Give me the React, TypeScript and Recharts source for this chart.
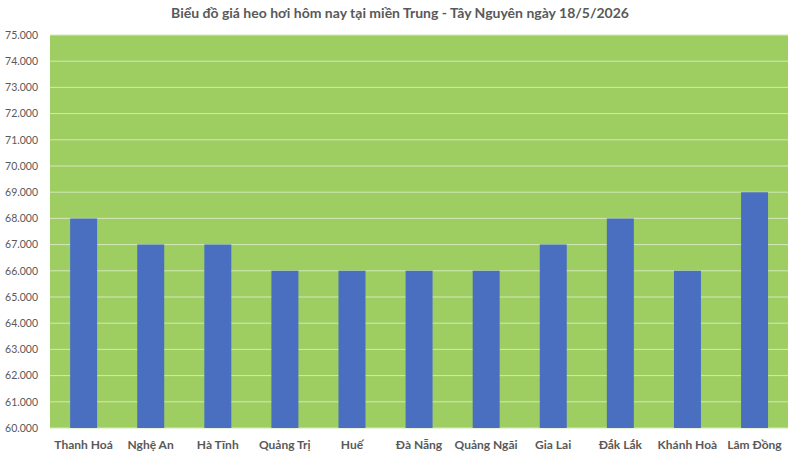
import React from "react";
import { BarChart, Bar, XAxis, YAxis, CartesianGrid } from "recharts";

const categories = ["Thanh Hoá", "Nghệ An", "Hà Tĩnh", "Quảng Trị", "Huế", "Đà Nẵng", "Quảng Ngãi", "Gia Lai", "Đắk Lắk", "Khánh Hoà", "Lâm Đồng"];
const prices = [68000, 67000, 67000, 66000, 66000, 66000, 66000, 67000, 68000, 66000, 69000];
const yTicks = [60000, 61000, 62000, 63000, 64000, 65000, 66000, 67000, 68000, 69000, 70000, 71000, 72000, 73000, 74000, 75000];
const title = "Biểu đồ giá heo hơi hôm nay tại miền Trung - Tây Nguyên ngày 18/5/2026";

const data = categories.map((name, i) => ({ name, price: prices[i] }));

const fmt = (v: number) => {
  const k = Math.floor(v / 1000);
  const r = String(v % 1000).padStart(3, "0");
  return `${k}.${r}`;
};

const FONT = "Lato, 'Open Sans', sans-serif";

export default function App() {
  return (
    <div style={{ position: "absolute", left: 0, top: 0, width: 800, height: 460, background: "#fff", fontFamily: FONT }}>
      <div style={{ position: "absolute", top: 4, left: 0, width: 800, textAlign: "center", fontSize: 14, fontWeight: 700, color: "#595959" }}>
        {title}
      </div>
      <BarChart width={800} height={460} data={data} margin={{ top: 35, right: 12, bottom: 0, left: 0 }} barCategoryGap="30%">
        <CartesianGrid vertical={false} stroke="#D3E8B8" strokeWidth={1} fill="#9ECE62" fillOpacity={1} />
        <XAxis
          dataKey="name"
          height={32}
          tickLine={false}
          axisLine={false}
          interval={0}
          tick={{ fill: "#595959", fontSize: 12, fontWeight: 700, fontFamily: FONT }}
          tickMargin={6}
        />
        <YAxis
          width={50}
          domain={[60000, 75000]}
          ticks={yTicks}
          tickFormatter={fmt}
          tickLine={false}
          axisLine={false}
          interval={0}
          tick={{ fill: "#595959", fontSize: 10.5, fontFamily: FONT }}
          tickMargin={6}
          allowDataOverflow
        />
        <Bar dataKey="price" fill="#4A6FC0" isAnimationActive={false} />
      </BarChart>
    </div>
  );
}
